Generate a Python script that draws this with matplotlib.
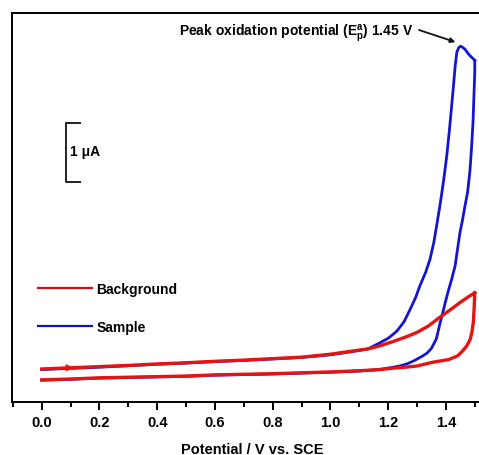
import matplotlib
matplotlib.use("Agg")
import matplotlib.pyplot as plt
from matplotlib.lines import Line2D
from matplotlib.ticker import FixedLocator

plt.rcParams['font.family'] = ['Liberation Sans', 'DejaVu Sans']
plt.rcParams['font.weight'] = 'bold'
plt.rcParams['mathtext.fontset'] = 'custom'
plt.rcParams['mathtext.rm'] = 'Liberation Sans:bold'
plt.rcParams['mathtext.bf'] = 'Liberation Sans:bold'
plt.rcParams['mathtext.it'] = 'Liberation Sans:bold'

# ---- data (potential in V vs SCE, current in uA, arbitrary offset) ----
bg_fwd_v = [0.00, 0.10, 0.20, 0.30, 0.40, 0.50, 0.60, 0.70, 0.80, 0.90, 1.00,
            1.07, 1.13, 1.17, 1.22, 1.26, 1.30, 1.34, 1.38, 1.42, 1.45, 1.48, 1.50]
bg_fwd_i = [-0.04, -0.02, 0.00, 0.02, 0.045, 0.065, 0.09, 0.11, 0.135, 0.16, 0.21,
            0.26, 0.30, 0.35, 0.43, 0.50, 0.58, 0.69, 0.84, 0.98, 1.09, 1.19, 1.25]
bg_rev_v = [1.500, 1.498, 1.495, 1.490, 1.484, 1.472, 1.455, 1.44, 1.41, 1.38, 1.35,
            1.30, 1.26, 1.22, 1.17, 1.10, 1.00, 0.90, 0.80, 0.70, 0.60, 0.50, 0.40,
            0.30, 0.20, 0.10, 0.00]
bg_rev_i = [1.25, 1.00, 0.75, 0.58, 0.46, 0.35, 0.25, 0.18, 0.12, 0.095, 0.07,
            0.01, -0.01, -0.025, -0.05, -0.07, -0.09, -0.105, -0.12, -0.13, -0.14,
            -0.16, -0.17, -0.18, -0.19, -0.21, -0.225]

smp_fwd_v = [0.00, 0.10, 0.20, 0.30, 0.40, 0.50, 0.60, 0.70, 0.80, 0.90, 1.00,
             1.07, 1.13, 1.17, 1.20, 1.23, 1.255, 1.276, 1.295, 1.31, 1.33, 1.345,
             1.358, 1.368, 1.38, 1.392, 1.403, 1.412, 1.420, 1.427, 1.432, 1.438,
             1.445, 1.451, 1.458, 1.466, 1.475, 1.483, 1.492, 1.500]
smp_fwd_i = [-0.05, -0.03, -0.01, 0.015, 0.04, 0.06, 0.085, 0.105, 0.13, 0.155, 0.20,
             0.25, 0.30, 0.40, 0.48, 0.60, 0.76, 0.97, 1.17, 1.37, 1.60, 1.82,
             2.10, 2.39, 2.75, 3.15, 3.57, 4.00, 4.42, 4.80, 5.09, 5.33,
             5.41, 5.43, 5.41, 5.38, 5.32, 5.27, 5.23, 5.19]
smp_rev_v = [1.500, 1.500, 1.497, 1.494, 1.489, 1.483, 1.475, 1.466, 1.457, 1.449,
             1.440, 1.432, 1.420, 1.407, 1.398, 1.390, 1.378, 1.367, 1.350, 1.335,
             1.321, 1.29, 1.264, 1.24, 1.217, 1.17, 1.10, 1.00, 0.90, 0.80, 0.70,
             0.60, 0.50, 0.40, 0.30, 0.20, 0.10, 0.00]
smp_rev_i = [5.19, 4.99, 4.57, 4.15, 3.72, 3.30, 2.95, 2.72, 2.47, 2.28,
             1.98, 1.71, 1.48, 1.26, 1.09, 0.93, 0.70, 0.47, 0.31, 0.23,
             0.185, 0.10, 0.044, 0.01, -0.01, -0.05, -0.075, -0.095, -0.11, -0.125,
             -0.135, -0.145, -0.165, -0.175, -0.185, -0.195, -0.215, -0.23]

x_major = [0.0, 0.2, 0.4, 0.6, 0.8, 1.0, 1.2, 1.4]
x_tick_labels = ['0.0', '0.2', '0.4', '0.6', '0.8', '1.0', '1.2', '1.4']

RED = '#e41414'
BLUE = '#1414d2'

fig = plt.figure(figsize=(4.79, 4.56), dpi=100)
ax = fig.add_axes([12 / 479, 0.1162, 472 / 479, 0.8531])

ax.plot(smp_fwd_v, smp_fwd_i, color=BLUE, lw=2.0, solid_joinstyle='round')
ax.plot(smp_rev_v, smp_rev_i, color=BLUE, lw=2.0, solid_joinstyle='round')
ax.plot(bg_fwd_v, bg_fwd_i, color=RED, lw=2.4, solid_joinstyle='round')
ax.plot(bg_rev_v, bg_rev_i, color=RED, lw=2.4, solid_joinstyle='round')

# scan direction arrow on background forward scan
ax.annotate('', xy=(0.11, -0.016), xytext=(0.06, -0.026),
            arrowprops=dict(arrowstyle='-|>', color=RED, lw=0, mutation_scale=14,
                            shrinkA=0, shrinkB=0))

ax.set_xlim(-0.103, 1.532)
ax.set_ylim(-0.6, 5.993)

ax.xaxis.set_major_locator(FixedLocator(x_major))
ax.set_xticklabels(x_tick_labels)
ax.xaxis.set_minor_locator(FixedLocator([-0.1, 0.1, 0.3, 0.5, 0.7, 0.9, 1.1, 1.3, 1.5]))
ax.tick_params(axis='x', which='major', direction='out', length=6, width=1.4,
               labelsize=10.5, pad=3.5)
ax.tick_params(axis='x', which='minor', direction='out', length=3.5, width=1.4)
ax.set_yticks([])
for s in ['left', 'top', 'bottom', 'right']:
    ax.spines[s].set_linewidth(1.4)

ax.set_xlabel('Potential / V vs. SCE', fontsize=10.5, fontweight='bold')
ax.xaxis.set_label_coords((252 - 12) / 472, -0.103)

# scale bar (1 uA)
ax.plot([0.133, 0.084, 0.084, 0.133], [4.13, 4.13, 3.13, 3.13], color='#222222', lw=1.4)
ax.text(0.098, 3.654, '1 \u03bcA', fontsize=10, fontweight='bold', va='center', ha='left')

# peak annotation
ax.text(1.288, 5.67, 'Peak oxidation potential (E$_{\\mathregular{p}}^{\\mathregular{a}}$) 1.45 V',
        fontsize=10, fontweight='bold', ha='right', va='center')
ax.annotate('', xy=(1.433, 5.50), xytext=(1.307, 5.705),
            arrowprops=dict(arrowstyle='-|>', color='#111111', lw=1.3,
                            mutation_scale=7, shrinkA=0, shrinkB=0))

handles = [Line2D([], [], color='#d01010', lw=1.6),
           Line2D([], [], color='#1010c8', lw=1.6)]
ax.legend(handles, ['Background', 'Sample'], loc='upper left',
          bbox_to_anchor=(26 / 472, (403 - 283) / 389), frameon=False,
          fontsize=10, handlelength=3.9, handletextpad=0.3, labelspacing=1.75,
          borderpad=0, borderaxespad=0)

fig.savefig('out.png', dpi=100)
